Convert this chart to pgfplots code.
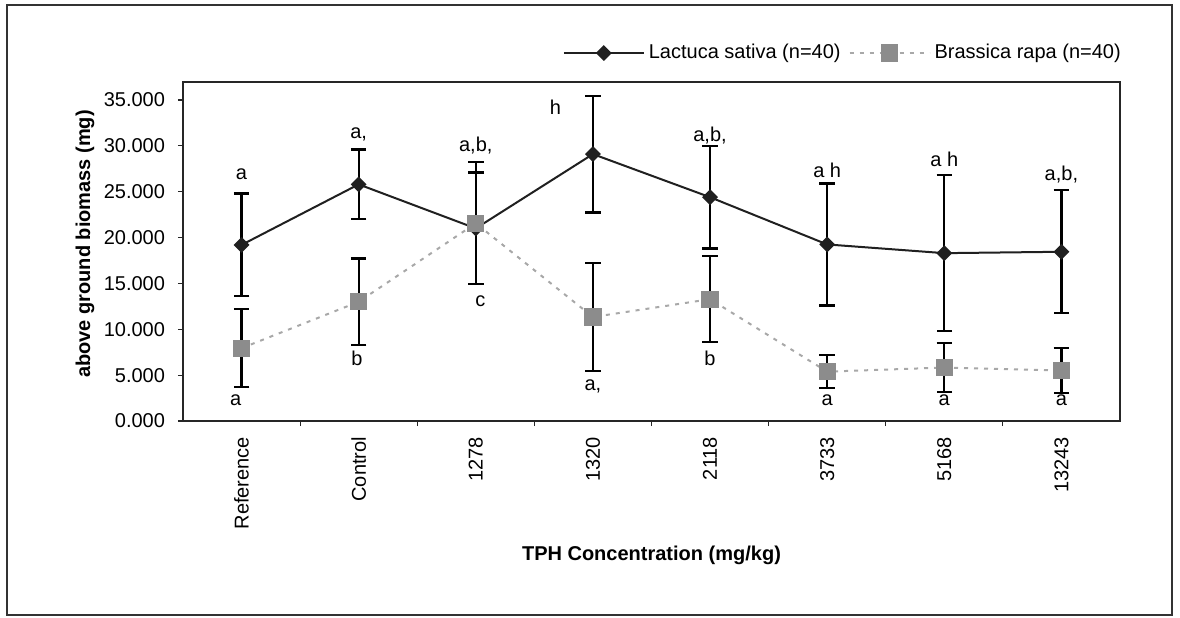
\documentclass[border=0pt]{standalone}
\usepackage{fontspec}
\setmainfont{Liberation Sans}
\usepackage{pgfplots}
\usepackage{pgfplotstable}
\pgfplotsset{compat=1.18}
\definecolor{brmark}{HTML}{8C8C8C}
\definecolor{brline}{HTML}{A8A8A8}
\definecolor{ldark}{HTML}{202020}

\pgfplotstableread{
x y e
0 19.20 5.60
1 25.80 3.80
2 21.00 6.10
3 29.10 6.37
4 24.40 5.60
5 19.25 6.65
6 18.30 8.50
7 18.45 6.70
}\lactuca

\pgfplotstableread{
x y e
0 7.94 4.27
1 13.00 4.72
2 21.55 6.65
3 11.34 5.86
4 13.28 4.70
5 5.38 1.82
6 5.83 2.70
7 5.50 2.42
}\brassica

\begin{document}
\begin{tikzpicture}
\useasboundingbox (-91.5pt,-98pt) rectangle (498.5pt,210.5pt);
\begin{axis}[
  at={(0pt,0pt)}, anchor=south west,
  scale only axis, width=468.5pt, height=169.5pt,
  xmin=-0.5, xmax=7.5, ymin=0, ymax=36.96,
  axis line style={line width=0.8pt, black!85},
  tick align=outside,
  xtick pos=left, ytick pos=left,
  xtick={0.5,1.5,...,6.5}, xticklabels={},
  extra x ticks={0,...,7},
  extra x tick labels={Reference,Control,1278,1320,2118,3733,5168,13243},
  extra x tick style={major tick length=0pt},
  xticklabel style={rotate=90, anchor=east},
  xticklabel shift=4.5pt,
  ytick={0,5,...,35},
  major tick length=2.5pt,
  tick style={line width=0.6pt, black!85},
  yticklabel style={/pgf/number format/.cd, fixed, fixed zerofill, precision=3, 1000 sep={}},
  /pgf/number format/assume math mode=true,
  yticklabel shift=3pt,
  xlabel={\bfseries TPH Concentration (mg/kg)},
  ylabel={\bfseries above ground biomass (mg)},
  every axis x label/.style={at={(axis description cs:0.5,-0.395)}, anchor=center},
  every axis y label/.style={at={(axis description cs:-0.1046,0.522)}, rotate=90, anchor=center},
  legend style={at={(axis description cs:1.012,1.0855)}, anchor=east, draw=none, fill=none,
    legend columns=2,
    /tikz/every odd column/.append style={column sep=0pt},
    /tikz/every even column/.append style={column sep=2pt}},
  legend image code/.code={\draw[mark repeat=2,mark phase=2,#1] plot coordinates {(0pt,0pt) (20pt,0pt) (40pt,0pt)};},
]
\addplot[line width=1pt, ldark, mark=square*, mark size=2.3pt, mark options={rotate=45, solid, fill=ldark, draw=ldark},
  error bars/.cd, y dir=both, y explicit,
  error bar style={line width=1.1pt, black, solid},
  error mark options={rotate=90, mark size=3.9pt, line width=1.1pt, black, solid}]
  table[x=x, y=y, y error=e] {\lactuca};
\addlegendentry{Lactuca sativa (n=40)}
\addplot[line width=1pt, brline, dash pattern=on 2pt off 3pt, mark=square*, mark size=3.8pt, mark options={solid, fill=brmark, draw=brmark},
  error bars/.cd, y dir=both, y explicit,
  error bar style={line width=1.1pt, black, solid},
  error mark options={rotate=90, mark size=3.9pt, line width=1.1pt, black, solid}]
  table[x=x, y=y, y error=e] {\brassica};
\addlegendentry{Brassica rapa (n=40)}
% significance letters, Lactuca (above)
\node[anchor=base] at (axis cs:0,26.28) {a};
\node[anchor=base] at (axis cs:1,30.75) {a,};
\node[anchor=base] at (axis cs:2,29.36) {a,b,};
\node[anchor=base] at (axis cs:2.68,33.37) {h};
\node[anchor=base] at (axis cs:4,30.45) {a,b,};
\node[anchor=base] at (axis cs:5,26.6) {a h};
\node[anchor=base] at (axis cs:6,27.8) {a h};
\node[anchor=base] at (axis cs:7,26.17) {a,b,};
% significance letters, Brassica (below)
\node[anchor=base] at (axis cs:-0.05,1.74) {a};
\node[anchor=base] at (axis cs:0.985,6.1) {b};
\node[anchor=base] at (axis cs:2.04,12.43) {c};
\node[anchor=base] at (axis cs:3.0,3.38) {a,};
\node[anchor=base] at (axis cs:4,6.1) {b};
\node[anchor=base] at (axis cs:5,1.64) {a};
\node[anchor=base] at (axis cs:6,1.64) {a};
\node[anchor=base] at (axis cs:7,1.64) {a};
\end{axis}
\draw[line width=1pt, black!80] (-88pt,-97pt) rectangle (494.5pt,208pt);
\end{tikzpicture}
\end{document}
